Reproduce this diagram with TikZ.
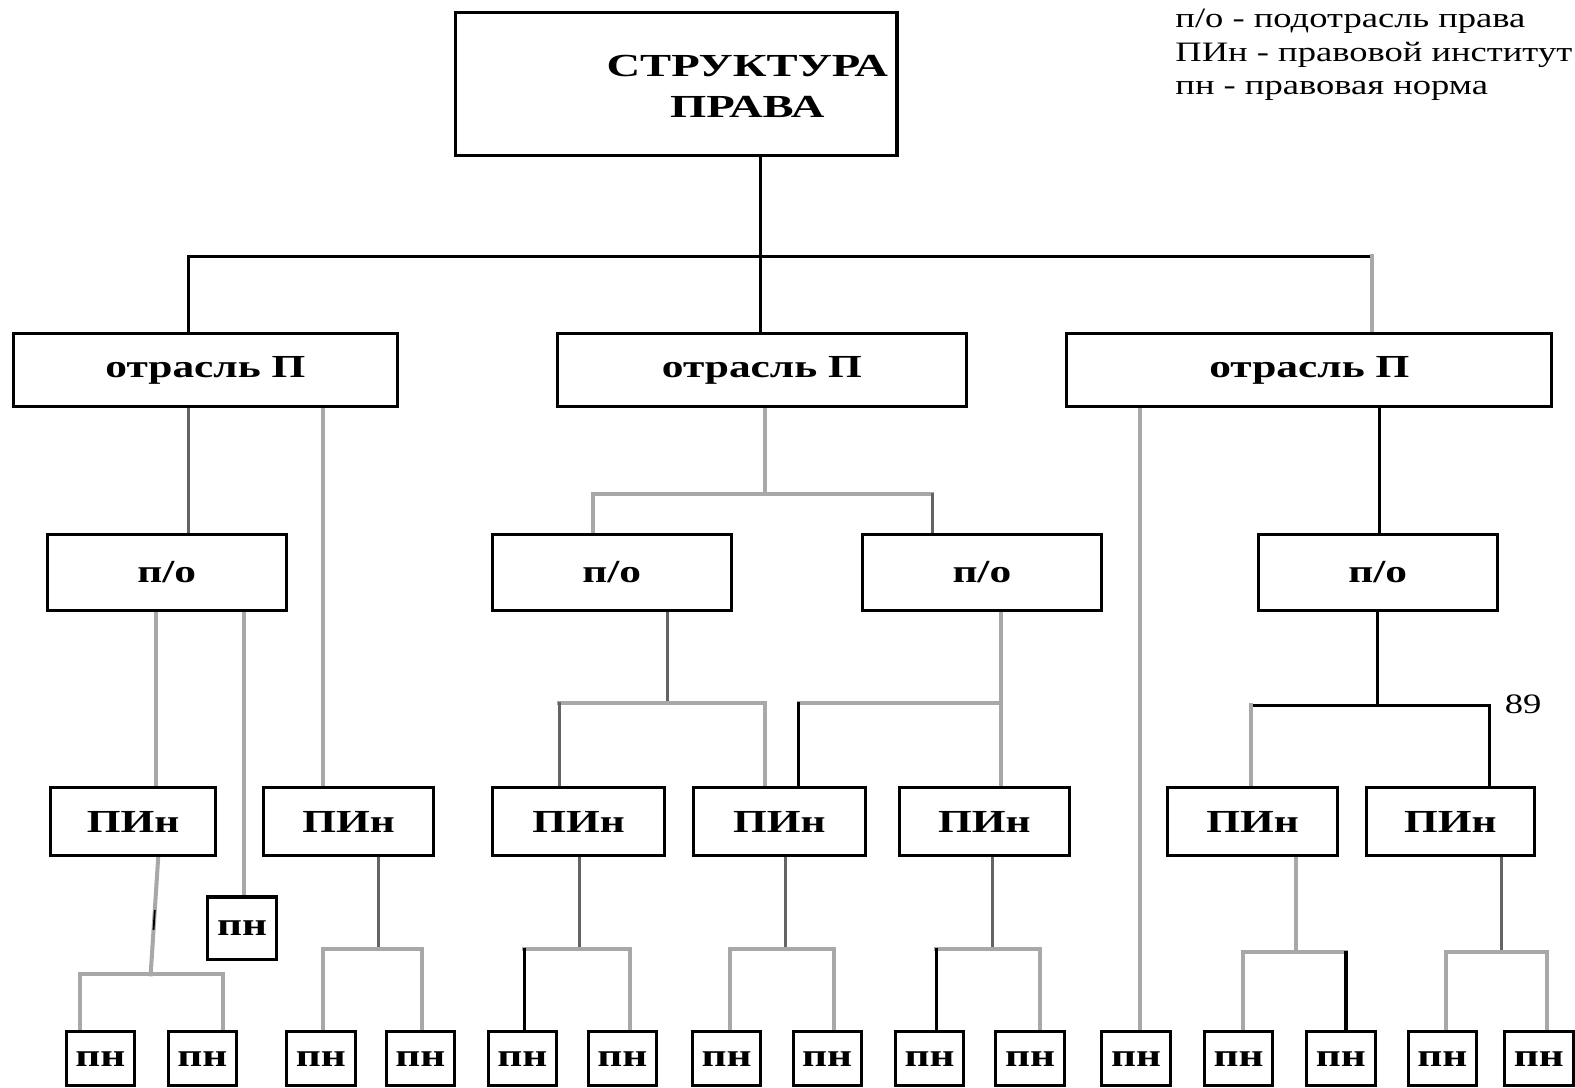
\documentclass[tikz,border=0pt]{standalone}
\usepackage{fontspec}
\usetikzlibrary{backgrounds}
\newfontfamily\boxfont[FakeStretch=1.35]{Liberation Serif}
\newfontfamily\titlefont[FakeStretch=1.45]{Liberation Serif}
\newfontfamily\legfont[FakeStretch=1.3]{Liberation Serif}
\definecolor{lgray}{RGB}{168,168,168}
\definecolor{dgray}{RGB}{100,100,100}
\begin{document}
\begin{tikzpicture}[x=1pt,y=-1pt,
  box/.style={draw=black, line width=3pt, inner sep=0pt,
    font=\boxfont\bfseries\fontsize{32}{36}\selectfont},
  otr/.style={box, minimum height=73pt},
  pobox/.style={box, minimum width=238pt, minimum height=76pt},
  pin/.style={box, minimum height=68pt},
  pnb/.style={box, minimum width=68pt, minimum height=54pt},
  leg/.style={inner sep=0pt, font=\legfont\fontsize{28}{32}\selectfont},
  blk/.style={draw=black, line width=3pt, line cap=rect},
  dg/.style={draw=dgray, line width=3pt, line cap=rect},
  lg/.style={draw=lgray, line width=4pt, line cap=rect}
]
\useasboundingbox (0,0) rectangle (1568,1083);

% top
\node[box, minimum width=440pt, minimum height=143pt] (top) at (673,83.5) {};
\node[inner sep=0pt, align=center, font=\titlefont\bfseries\fontsize{32}{40}\selectfont] (tt) at (744,86) {СТРУКТУРА\\ПРАВА};

% legend
\node[leg, anchor=base west] (l1) at (1170,27) {п/о - подотрасль права};
\node[leg, anchor=base west] (l2) at (1170,61) {ПИн - правовой институт};
\node[leg, anchor=base west] (l3) at (1170,94) {пн - правовая норма};
\node[leg, anchor=base west] (n89) at (1498,710) {89};

% level 1
\node[otr, minimum width=383pt] (oA) at (204.5,368.5) {отрасль П};
\node[otr, minimum width=407pt] (oB) at (758.5,368.5) {отрасль П};
\node[otr, minimum width=483pt] (oC) at (1303.5,368.5) {отрасль П};

% level 2
\node[pobox] (pA) at (166,570) {п/о};
\node[pobox] (pB1) at (609,570) {п/о};
\node[pobox] (pB2) at (977.5,570) {п/о};
\node[pobox] (pC) at (1371.5,570) {п/о};

% level 3
\node[pin, minimum width=165pt] (iA1) at (132.5,818) {ПИн};
\node[pin, minimum width=170pt] (iA2) at (347,818) {ПИн};
\node[pin, minimum width=172pt] (iB1) at (576,818) {ПИн};
\node[pin, minimum width=172pt] (iB2) at (776,818) {ПИн};
\node[pin, minimum width=170pt] (iB3) at (980,818) {ПИн};
\node[pin, minimum width=170pt] (iC1) at (1247,818) {ПИн};
\node[pin, minimum width=168pt] (iC2) at (1444,818) {ПИн};

% small norm
\node[box, minimum width=68pt, minimum height=62pt] (sn) at (241,924) {пн};

% bottom norms
\foreach \i/\x in {1/100,2/201.5,3/319.5,4/418.5,5/520,6/619.5,7/723.5,8/823.5,
  9/925.5,10/1025.5,11/1131,12/1233,13/1335,14/1436,15/1532}
  \node[pnb] (n\i) at (\x,1054) {пн};

% junction coordinates
\coordinate (j1) at (757,255);
\coordinate (j1L) at (188,255);
\coordinate (j1R) at (1366,255);
\coordinate (xA2) at (322,0);
\coordinate (xA1) at (155,0);
\coordinate (xAs) at (243,0);
\coordinate (jA1) at (150,970);
\coordinate (bA1L) at (80,970);
\coordinate (bA1R) at (222,970);
\coordinate (jA2) at (377,945);
\coordinate (bA2L) at (322,945);
\coordinate (bA2R) at (420,945);
\coordinate (jB) at (762,492);
\coordinate (bBL) at (590,492);
\coordinate (bBR) at (928,492);
\coordinate (jB1) at (665,700);
\coordinate (bB1L) at (557,700);
\coordinate (bB1R) at (762,700);
\coordinate (bB2) at (997,700);
\coordinate (bB2L) at (795,700);
\coordinate (jI1) at (577,945);
\coordinate (bI1L) at (522,945);
\coordinate (bI1R) at (627,945);
\coordinate (jI2) at (782,945);
\coordinate (bI2L) at (727,945);
\coordinate (bI2R) at (830,945);
\coordinate (jI3) at (988,945);
\coordinate (bI3L) at (932,945);
\coordinate (bI3R) at (1035,945);
\coordinate (xC1) at (1135,0);
\coordinate (xC2) at (1373,0);
\coordinate (jC) at (1371,702);
\coordinate (bCL) at (1245,702);
\coordinate (bCR) at (1483,702);
\coordinate (jIC1) at (1290,948);
\coordinate (bIC1L) at (1237,948);
\coordinate (bIC1R) at (1340,948);
\coordinate (jIC2) at (1495,948);
\coordinate (bIC2L) at (1440,948);
\coordinate (bIC2R) at (1540,948);

\begin{scope}[on background layer]
\fill[white] (0,0) rectangle (1568,1083);
% top level
\draw[blk] (top.south -| j1) -- (oB.north -| j1);
\draw[blk] (oA.north -| j1L) -- (j1L) -- (j1R);
\draw[lg] (j1R) -- (oC.north -| j1R);
% branch A
\draw[dg] (oA.south -| j1L) -- (pA.north -| j1L);
\draw[lg] (oA.south -| xA2) -- (iA2.north -| xA2);
\draw[lg] (pA.south -| xA1) -- (iA1.north -| xA1);
\draw[lg] (pA.south -| xAs) -- (sn.north -| xAs);
\draw[lg] ([xshift=25pt]iA1.south) -- (jA1)
  coordinate[pos=0.45] (d1) coordinate[pos=0.62] (d2);
\draw[lg] (n1.north -| bA1L) -- (bA1L) -- (bA1R) -- (n2.north -| bA1R);
\draw[dg] (iA2.south -| jA2) -- (jA2);
\draw[lg] (n3.north -| bA2L) -- (bA2L) -- (bA2R) -- (n4.north -| bA2R);
% branch B
\draw[lg] (oB.south -| jB) -- (jB);
\draw[lg] (pB1.north -| bBL) -- (bBL) -- (bBR);
\draw[dg] (bBR) -- (pB2.north -| bBR);
\draw[dg] (pB1.south -| jB1) -- (jB1);
\draw[lg] (bB1L) -- (bB1R) -- (iB2.north -| bB1R);
\draw[dg] (bB1L) -- (iB1.north -| bB1L);
\draw[lg] (pB2.south -| bB2) -- (iB3.north -| bB2);
\draw[lg] (bB2) -- (bB2L);
\draw[blk] (bB2L) -- (iB2.north -| bB2L);
\draw[dg] (iB1.south -| jI1) -- (jI1);
\draw[lg] (bI1L) -- (bI1R) -- (n6.north -| bI1R);
\draw[blk] (bI1L) -- (n5.north -| bI1L);
\draw[dg] (iB2.south -| jI2) -- (jI2);
\draw[lg] (n7.north -| bI2L) -- (bI2L) -- (bI2R) -- (n8.north -| bI2R);
\draw[dg] (iB3.south -| jI3) -- (jI3);
\draw[lg] (bI3L) -- (bI3R) -- (n10.north -| bI3R);
\draw[blk] (bI3L) -- (n9.north -| bI3L);
% branch C
\draw[lg] (oC.south -| xC1) -- (n11.north -| xC1);
\draw[blk] (oC.south -| xC2) -- (pC.north -| xC2);
\draw[blk] (pC.south -| jC) -- (jC);
\draw[blk] (bCL) -- (bCR) -- (iC2.north -| bCR);
\draw[lg] (bCL) -- (iC1.north -| bCL);
\draw[lg] (iC1.south -| jIC1) -- (jIC1);
\draw[lg] (n12.north -| bIC1L) -- (bIC1L) -- (bIC1R);
\draw[blk] (bIC1R) -- (n13.north -| bIC1R);
\draw[dg] (iC2.south -| jIC2) -- (jIC2);
\draw[lg] (n14.north -| bIC2L) -- (bIC2L) -- (bIC2R) -- (n15.north -| bIC2R);
\end{scope}
\draw[black, line width=1.8pt] (d1) -- (d2);
\end{tikzpicture}
\end{document}
